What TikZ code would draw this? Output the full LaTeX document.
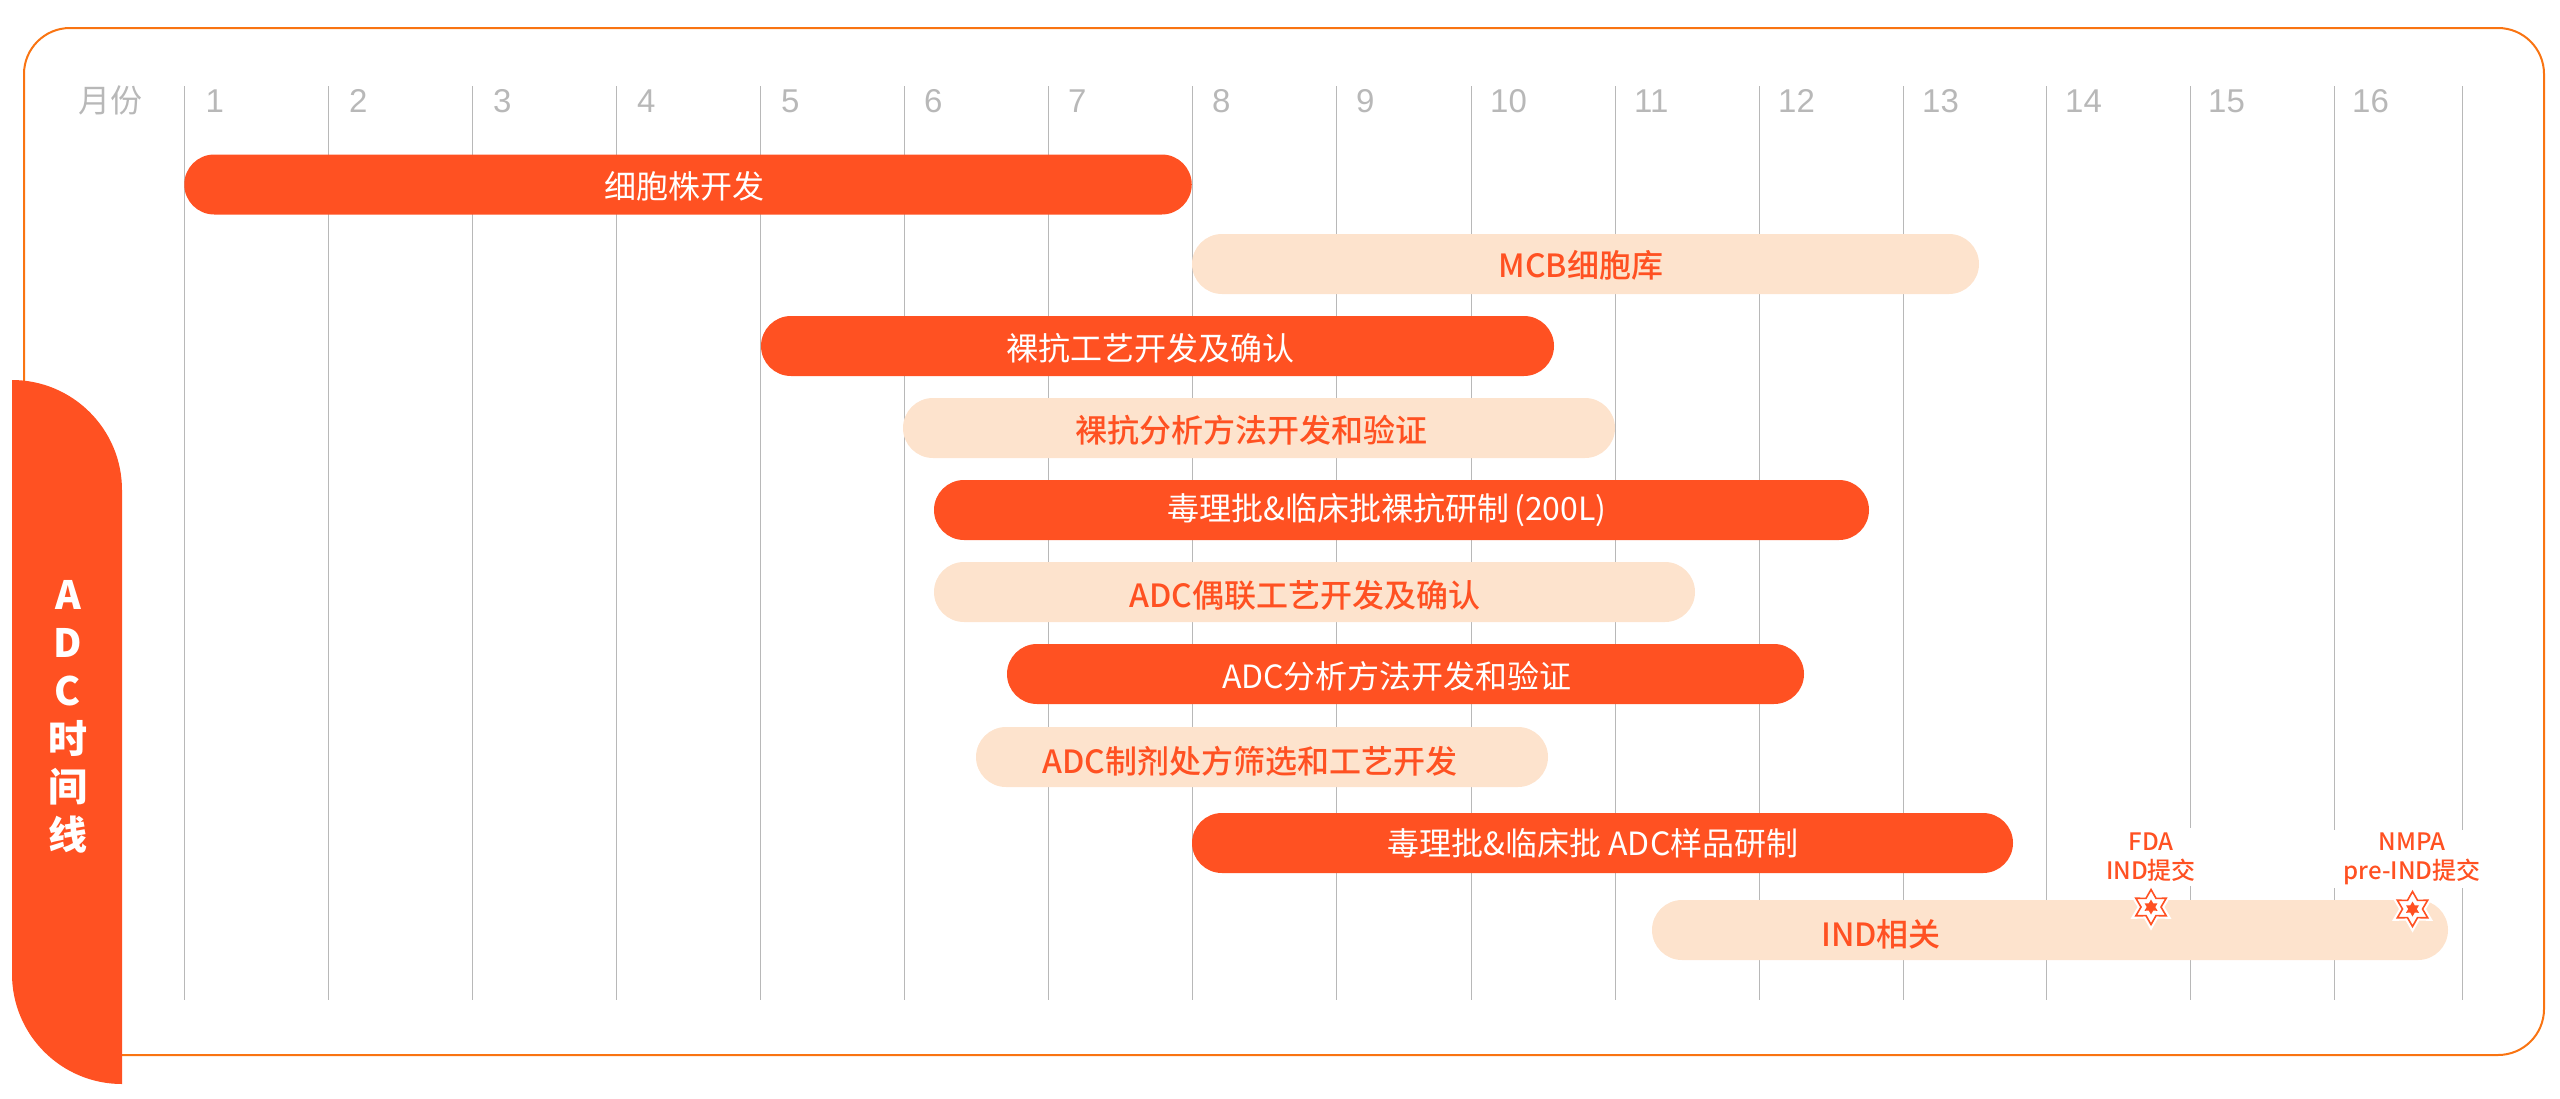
\documentclass[tikz,border=0pt]{standalone}
\usepackage{fontspec}
\setmainfont{Noto Sans CJK SC}
\newfontfamily\mediumfont{Noto Sans CJK SC Medium}
\newfontfamily\digitfont{Liberation Sans}
\usepackage{xcolor}
\usetikzlibrary{shapes.geometric}
\definecolor{adcorange}{HTML}{FF5122}
\definecolor{adcpeach}{HTML}{FDE3CD}
\definecolor{adcframe}{HTML}{F97412}
\definecolor{adcgrey}{HTML}{B8B8B8}
\tikzset{
  gridline/.style = {draw = adcgrey, line width = 1pt},
  monthlabel/.style = {anchor = west, inner sep = 0pt, text = adcgrey, font = \digitfont\fontsize{33pt}{33pt}\selectfont},
  darkbar/.style = {fill = adcorange, rounded corners = 30pt, minimum height = 60pt, inner sep = 0pt},
  lightbar/.style = {fill = adcpeach, rounded corners = 30pt, minimum height = 60pt, inner sep = 0pt},
  darktext/.style = {inner sep = 0pt, text = white, font = \fontsize{32pt}{32pt}\selectfont},
  lighttext/.style = {inner sep = 0pt, text = adcorange, font = \mediumfont\fontsize{32pt}{32pt}\selectfont},
  submitlabel/.style = {fill = white, align = center, inner xsep = 12pt, inner ysep = 0pt, minimum height = 58pt, text = adcorange, font = \mediumfont\fontsize{24pt}{29pt}\selectfont},
  milestone/.style = {star, star points = 6, star point ratio = 1.75, minimum size = 35pt, inner sep = 0pt, draw = adcorange, line width = 1.6pt, fill = white, preaction = {draw = white, line width = 6pt}},
  milestonecore/.style = {star, star points = 6, star point ratio = 1.75, minimum size = 15pt, inner sep = 0pt, fill = adcorange}
}

\begin{document}
\begin{tikzpicture}[x = 1pt, y = -1pt]
    \useasboundingbox (0, 0) rectangle (2560, 1098);
    \draw[adcframe, line width = 2pt, rounded corners = 46pt] (24, 28) rectangle (2544, 1055);
    \draw[gridline] (184.5, 86) -- (184.5, 1000);
    \draw[gridline] (328.5, 86) -- (328.5, 1000);
    \draw[gridline] (472.5, 86) -- (472.5, 1000);
    \draw[gridline] (616, 86) -- (616, 1000);
    \draw[gridline] (760, 86) -- (760, 1000);
    \draw[gridline] (904, 86) -- (904, 1000);
    \draw[gridline] (1048, 86) -- (1048, 1000);
    \draw[gridline] (1192, 86) -- (1192, 1000);
    \draw[gridline] (1336, 86) -- (1336, 1000);
    \draw[gridline] (1471, 86) -- (1471, 1000);
    \draw[gridline] (1615, 86) -- (1615, 1000);
    \draw[gridline] (1759, 86) -- (1759, 1000);
    \draw[gridline] (1903, 86) -- (1903, 1000);
    \draw[gridline] (2046.5, 86) -- (2046.5, 1000);
    \draw[gridline] (2190, 86) -- (2190, 1000);
    \draw[gridline] (2334, 86) -- (2334, 1000);
    \draw[gridline] (2462, 86) -- (2462, 1000);
    \node[monthlabel, text = adcgrey, font = \fontsize{32pt}{32pt}\selectfont] (monthtitle) at (78, 100) {月份};
    \node[monthlabel] (m1) at (205.5, 101) {1};
    \node[monthlabel] (m2) at (349, 101) {2};
    \node[monthlabel] (m3) at (493, 101) {3};
    \node[monthlabel] (m4) at (637, 101) {4};
    \node[monthlabel] (m5) at (781, 101) {5};
    \node[monthlabel] (m6) at (924, 101) {6};
    \node[monthlabel] (m7) at (1068, 101) {7};
    \node[monthlabel] (m8) at (1212, 101) {8};
    \node[monthlabel] (m9) at (1356, 101) {9};
    \node[monthlabel] (m10) at (1490, 101) {10};
    \node[monthlabel] (m11) at (1634, 101) {11};
    \node[monthlabel] (m12) at (1778, 101) {12};
    \node[monthlabel] (m13) at (1922, 101) {13};
    \node[monthlabel] (m14) at (2065, 101) {14};
    \node[monthlabel] (m15) at (2208, 101) {15};
    \node[monthlabel] (m16) at (2352, 101) {16};
    \node[darkbar, minimum width = 1007.5pt] (cellbar) at (688, 184.5) {};
    \node[darktext] (celltext) at (684, 186) {细胞株开发};
    \node[lightbar, minimum width = 787pt] (mcbbar) at (1585.5, 264) {};
    \node[lighttext] (mcbtext) at (1581, 265) {MCB细胞库};
    \node[darkbar, minimum width = 793pt] (processbar) at (1157.5, 346) {};
    \node[darktext] (processtext) at (1150, 348) {裸抗工艺开发及确认};
    \node[lightbar, minimum width = 712pt] (assaybar) at (1259, 428) {};
    \node[lighttext] (assaytext) at (1251, 430) {裸抗分析方法开发和验证};
    \node[darkbar, minimum width = 935pt] (batchbar) at (1401.5, 510) {};
    \node[darktext] (batchtext) at (1387, 510) {毒理批\&临床批裸抗研制\hspace{5pt}(200L)};
    \node[lightbar, minimum width = 761pt] (couplebar) at (1314.5, 592) {};
    \node[lighttext] (coupletext) at (1305, 595) {ADC偶联工艺开发及确认};
    \node[darkbar, minimum width = 797pt] (adcassaybar) at (1405.5, 674) {};
    \node[darktext] (adcassaytext) at (1397, 676) {ADC分析方法开发和验证};
    \node[lightbar, minimum width = 572pt] (formbar) at (1262, 757) {};
    \node[lighttext] (formtext) at (1250, 761) {ADC制剂处方筛选和工艺开发};
    \node[darkbar, minimum width = 821pt] (samplebar) at (1602.5, 843) {};
    \node[darktext] (sampletext) at (1593, 843) {毒理批\&临床批 ADC样品研制};
    \node[lightbar, minimum width = 796pt] (indbar) at (2050, 930) {};
    \node[lighttext] (indtext) at (1881, 934) {IND相关};
    \node[submitlabel] (fdatext) at (2151, 857) {FDA\\IND提交};
    \node[submitlabel] (nmpatext) at (2412, 859) {NMPA\\pre-IND提交};
    \node[milestone] (fdastar) at (2151, 907) {};
    \node[milestonecore] (fdacore) at (fdastar.center) {};
    \node[milestone] (nmpastar) at (2412.5, 909) {};
    \node[milestonecore] (nmpacore) at (nmpastar.center) {};
    \fill[adcorange] (12, 380) [rounded corners = 110pt] -- (122, 380) [sharp corners] -- (122, 1084) [rounded corners = 110pt] -- (12, 1084) [sharp corners] -- cycle;
    \node[align = center, text = white, inner sep = 0pt, font = \bfseries\fontsize{39pt}{48pt}\selectfont] (sidetitle) at (68, 717) {A\\D\\C\\时\\间\\线};
\end{tikzpicture}
\end{document}
